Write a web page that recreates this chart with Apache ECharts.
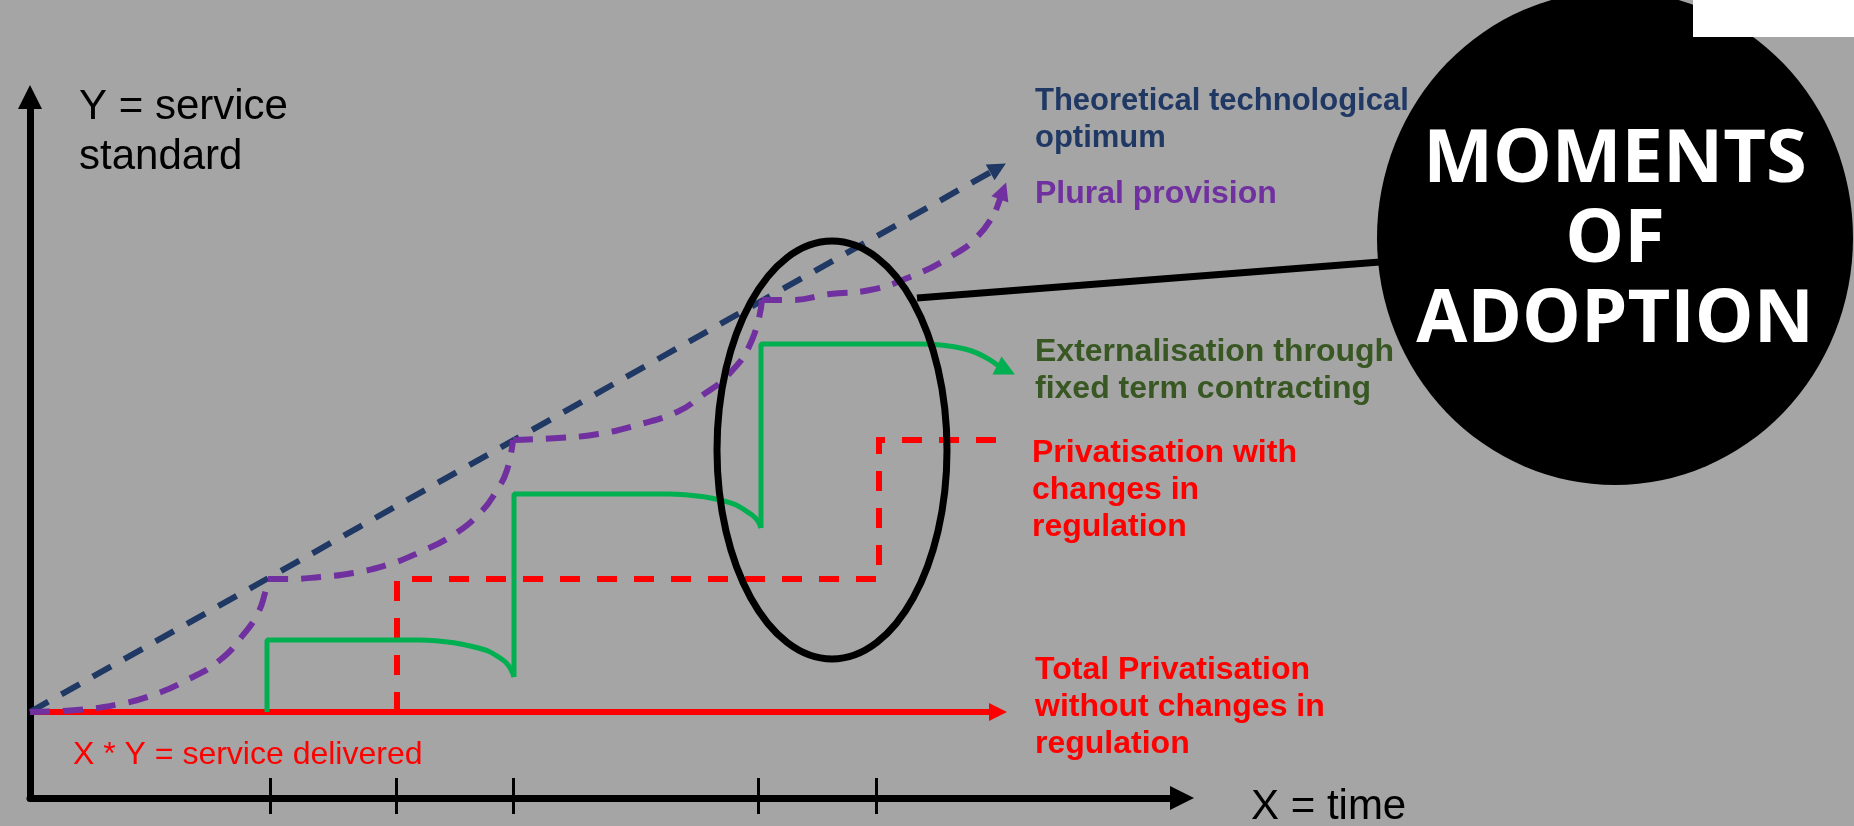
<!DOCTYPE html>
<html>
<head>
<meta charset="utf-8">
<title>Moments of adoption</title>
<script src="https://cdn.jsdelivr.net/npm/echarts@6/dist/echarts.min.js"></script>
<style>
    html, body { margin: 0; padding: 0; background: #a5a5a5; }
    #g_chart { width: 1854px; height: 826px; }
</style>
</head>
<body>
<div id="g_chart"></div>
<script>
// units: x = time, y = service standard (arbitrary units)
var tickTimes = [24.0, 36.6, 48.3, 72.8, 84.6];

// theoretical technological optimum (straight dashed line)
var optimumLine = [[0, 8.6], [96.8, 63.0]];

// plural provision, one curve between each moment of adoption
var pluralSegments = [
    [[0, 8.6], [4.7, 8.8], [9.0, 9.4], [12.3, 10.3], [15.7, 11.8], [19.0, 13.8], [21.3, 16.3], [22.8, 18.5], [23.5, 20.5], [23.8, 21.9]],
    [[23.8, 21.9], [25.7, 21.9], [29.0, 22.1], [32.3, 22.5], [35.7, 23.3], [39.0, 24.6], [42.3, 26.3], [45.0, 28.5], [46.7, 30.8], [47.7, 32.8], [48.3, 35.8]],
    [[48.3, 35.8], [52.8, 36.0], [56.8, 36.4], [60.7, 37.3], [64.7, 38.6], [67.0, 40.1], [70.0, 42.5], [72.2, 45.8], [73.2, 49.8]],
    [[73.2, 49.8], [76.0, 49.8], [80.0, 50.4], [84.0, 50.8], [88.0, 52.1], [92.0, 54.1], [94.8, 56.2], [96.6, 58.8]]
];
var pluralArrow = [[96.6, 58.8], [97.3, 60.7]];

// externalisation through fixed term contracting
var contractSteps = [
    [[23.7, 8.6], [23.7, 15.8], [39.0, 15.8]],
    [[48.4, 12.1], [48.4, 30.4], [63.9, 30.4]],
    [[73.1, 27.0], [73.1, 45.4], [89.0, 45.4]]
];
var contractDecay = [
    [[39.0, 15.8], [44.0, 15.2], [47.3, 13.8], [48.4, 12.1]],
    [[63.9, 30.4], [69.0, 29.8], [72.2, 28.3], [73.1, 27.0]],
    [[89.0, 45.4], [93.5, 44.9], [97.0, 43.1]]
];
var contractArrow = [[97.0, 43.1], [97.6, 42.8]];

// privatisation with changes in regulation
var regulationSteps = [[36.7, 8.6], [36.7, 21.9], [84.9, 21.9], [84.9, 35.8], [97.4, 35.8]];

// total privatisation without changes in regulation
var totalPrivatisation = [[0, 8.6], [96.8, 8.6]];

// ellipse round the moments of adoption (centre, half-axes in units), and the call-out bubble
var adoptionRing = [80.2, 34.8];
var adoptionRingRadius = [11.5, 20.9];
var connector = [[88.7, 50.0], [135.0, 53.6]];
var bubble = [158.5, 56.0];

var labelFont = '"Liberation Sans", Arial, sans-serif';
var roundPath = 'path://M0,50 A50,50 0 1,1 100,50 A50,50 0 1,1 0,50 Z';

var series = [];

function $each(arr, fn) {
    for (var i = 0; i < arr.length; i++) fn(arr[i], i);
}

function arrowLine(coords, color, width, size, dash) {
    return {
        type: 'lines',
        coordinateSystem: 'cartesian2d',
        polyline: coords.length > 2,
        silent: true,
        clip: false,
        symbol: ['none', 'triangle'],
        symbolSize: size,
        lineStyle: {color: color, width: width, type: dash || 'solid', opacity: 1},
        data: [{coords: coords}]
    };
}

series.push(arrowLine(optimumLine, '#203864', 6, [18, 18], [21, 15]));

$each(pluralSegments, function (seg) {
    series.push({
        type: 'line',
        smooth: true,
        showSymbol: false,
        silent: true,
        lineStyle: {color: '#7030a0', width: 6, type: [20, 13]},
        data: seg
    });
});
series.push(arrowLine(pluralArrow, '#7030a0', 6, [18, 18]));

$each(contractSteps, function (seg) {
    series.push({
        type: 'line',
        showSymbol: false,
        silent: true,
        lineStyle: {color: '#00b050', width: 5},
        data: seg
    });
});
$each(contractDecay, function (seg) {
    series.push({
        type: 'line',
        smooth: true,
        showSymbol: false,
        silent: true,
        lineStyle: {color: '#00b050', width: 5},
        data: seg
    });
});
series.push(arrowLine(contractArrow, '#00b050', 5, [20, 20]));

series.push(arrowLine(regulationSteps, '#ff0000', 6, [17, 18], [20, 17]));
series.push(arrowLine(totalPrivatisation, '#ff0000', 6, [16, 18]));

series.push({
    type: 'lines',
    coordinateSystem: 'cartesian2d',
    silent: true,
    clip: false,
    z: 5,
    lineStyle: {color: '#000', width: 7, opacity: 1},
    data: [{coords: connector}]
});

series.push({
    type: 'scatter',
    silent: true,
    clip: false,
    z: 6,
    symbol: roundPath,
    symbolSize: [476, 494],
    itemStyle: {color: '#000', opacity: 1},
    label: {
        show: true,
        position: 'inside',
        formatter: 'MOMENTS\nOF\nADOPTION',
        color: '#fff',
        fontFamily: '"Open Sans", sans-serif',
        fontWeight: 'bold',
        fontSize: 74,
        lineHeight: 80,
        offset: [0, 3]
    },
    data: [bubble]
});

function note(x, y, text, color, size, lh, weight) {
    return {
        type: 'text',
        x: x,
        y: y,
        z: 50,
        silent: true,
        style: {
            text: text,
            fill: color,
            font: (weight || 'bold') + ' ' + size + 'px ' + labelFont,
            lineHeight: lh,
            verticalAlign: 'top'
        }
    };
}

var chart = echarts.init(document.getElementById('g_chart'));
chart.setOption({
    backgroundColor: '#a5a5a5',
    animation: false,
    grid: {left: 30, top: 97, width: 1152, height: 701},
    xAxis: [{
        type: 'value', min: 0, max: 115.2,
        axisLine: {show: true, onZero: false, symbol: ['none', 'triangle'], symbolSize: [24, 24], lineStyle: {color: '#000', width: 7}},
        axisTick: {show: true, inside: true, length: 20, customValues: tickTimes, lineStyle: {color: '#000', width: 3}},
        axisLabel: {show: false},
        splitLine: {show: false}
    }, {
        type: 'value', min: 0, max: 115.2, position: 'bottom', gridIndex: 0,
        axisLine: {show: false},
        axisTick: {show: true, inside: false, length: 16, customValues: tickTimes, lineStyle: {color: '#000', width: 3}},
        axisLabel: {show: false},
        splitLine: {show: false}
    }],
    yAxis: {
        type: 'value', min: 0, max: 70.1,
        axisLine: {show: true, onZero: false, symbol: ['none', 'triangle'], symbolSize: [24, 24], lineStyle: {color: '#000', width: 7}},
        axisTick: {show: false},
        axisLabel: {show: false},
        splitLine: {show: false}
    },
    series: series
});

// ring placed through the axes; drawn as a graphic so its border keeps one width
var ringC = chart.convertToPixel({gridIndex: 0}, adoptionRing);
var ringE = chart.convertToPixel({gridIndex: 0}, [adoptionRing[0] + adoptionRingRadius[0], adoptionRing[1] - adoptionRingRadius[1]]);

chart.setOption({
    graphic: [
        {
            type: 'ellipse', z: 40, silent: true,
            shape: {cx: ringC[0], cy: ringC[1], rx: ringE[0] - ringC[0], ry: ringE[1] - ringC[1]},
            style: {fill: 'none', stroke: '#000', lineWidth: 7}
        },
        note(79, 82, 'Y = service\nstandard', '#000', 42, 50, 'normal'),
        note(1251, 782, 'X = time', '#000', 42, 50, 'normal'),
        note(73, 737, 'X * Y = service delivered', '#ff0000', 32, 36, 'normal'),
        note(1035, 83, 'Theoretical technological\noptimum', '#1f3864', 31, 37),
        note(1035, 176, 'Plural provision', '#7030a0', 32, 37),
        note(1035, 334, 'Externalisation through\nfixed term contracting', '#385723', 32, 37),
        note(1032, 435, 'Privatisation with\nchanges in\nregulation', '#ff0000', 32, 37),
        note(1035, 652, 'Total Privatisation\nwithout changes in\nregulation', '#ff0000', 32, 37),
        {type: 'rect', z: 100, silent: true, shape: {x: 1693, y: 0, width: 161, height: 37}, style: {fill: '#fff'}}
    ]
});
</script>
</body>
</html>
